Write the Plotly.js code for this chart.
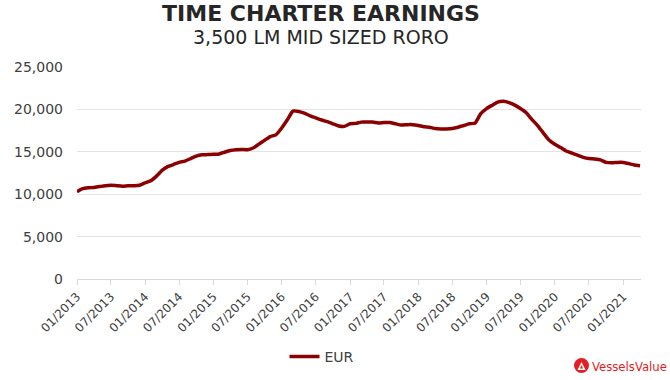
<!DOCTYPE html>
<html>
<head>
<meta charset="utf-8">
<script src="https://cdn.plot.ly/plotly-3.0.1.min.js"></script>
<style>html,body{margin:0;padding:0;background:#fff;}#chart{width:670px;height:380px;}</style>
</head>
<body>
<div id="chart"></div>
<script>
// Monthly time-charter earnings, Jan 2013 – Apr 2021 (EUR/day)
const startYear = 2013;
const seriesName = 'EUR';
const eurValues = [
  10300, 10650, 10750, 10800, 10900, 11000, 11050, 11000, 10950, 11000, 11000, 11050, // 2013
  11350, 11600, 12100, 12800, 13250, 13500, 13750, 13900, 14200, 14500, 14650, 14670, // 2014
  14700, 14750, 14950, 15150, 15250, 15280, 15250, 15450, 15900, 16350, 16800, 17000, // 2015
  17800, 18800, 19800, 19750, 19550, 19250, 19000, 18750, 18550, 18300, 18050, 18000, // 2016
  18300, 18350, 18500, 18500, 18500, 18400, 18450, 18450, 18300, 18150, 18200, 18200, // 2017
  18100, 17950, 17900, 17750, 17700, 17700, 17750, 17900, 18100, 18300, 18400, 19500, // 2018
  20100, 20500, 20850, 20950, 20800, 20500, 20100, 19600, 18800, 18100, 17200, 16400, // 2019
  15900, 15500, 15100, 14850, 14600, 14350, 14200, 14150, 14050, 13750, 13700, 13750, // 2020
  13750, 13600, 13450, 13350                                                          // 2021
];
const yTickVals = [0, 5000, 10000, 15000, 20000, 25000];
const yTickText = ['0', '5,000', '10,000', '15,000', '20,000', '25,000'];
const titleText = 'TIME CHARTER EARNINGS';
const subtitleText = '3,500 LM MID SIZED RORO';
const brandText = 'VesselsValue';

const dates = eurValues.map((v, i) => {
  const y = startYear + Math.floor(i / 12);
  const m = (i % 12) + 1;
  return y + '-' + String(m).padStart(2, '0') + '-01';
});

const trace = {
  x: dates,
  y: eurValues,
  type: 'scatter',
  mode: 'lines',
  name: seriesName,
  line: {color: '#8b0000', width: 3.5, shape: 'spline', smoothing: 0.5}
};

const plotL = 77, plotR = 641, plotT = 67, plotB = 279;
const pw = plotR - plotL, ph = plotB - plotT;
const px = v => (v - plotL) / pw;
const py = v => (plotB - v) / ph;

const layout = {
  width: 670, height: 380,
  margin: {l: plotL, r: 670 - plotR, t: plotT, b: 380 - plotB, autoexpand: false},
  paper_bgcolor: '#ffffff', plot_bgcolor: '#ffffff',
  font: {family: 'DejaVu Sans, Verdana, sans-serif', color: '#404040'},
  title: {
    text: '<b>' + titleText + '</b>',
    font: {family: 'DejaVu Sans, Verdana, sans-serif', size: 22, color: '#262626'},
    xref: 'container', x: 321 / 670, xanchor: 'center',
    yref: 'container', y: 1 - 13 / 380, yanchor: 'middle'
  },
  showlegend: true,
  legend: {
    orientation: 'h', x: px(322), xanchor: 'center', y: py(357), yanchor: 'middle',
    font: {size: 14, color: '#404040'}, bgcolor: 'rgba(0,0,0,0)'
  },
  xaxis: {
    type: 'date',
    range: ['2013-01-01', '2021-04-06'],
    tick0: '2013-01-01', dtick: 'M6', tickformat: '%m/%Y',
    tickangle: -45,
    tickfont: {size: 12, color: '#404040'},
    showgrid: false, zeroline: false,
    showline: true, linecolor: '#d9d9d9', linewidth: 1,
    ticks: 'outside', ticklen: 5, tickcolor: '#d9d9d9', tickwidth: 1,
    automargin: false,
    fixedrange: true
  },
  yaxis: {
    range: [0, 25000],
    tickvals: yTickVals, ticktext: yTickText,
    tickfont: {size: 14, color: '#404040'},
    showgrid: true, gridcolor: '#e3e3e3', gridwidth: 1,
    zeroline: false, showline: false, ticks: '',
    ticklabelstandoff: 13,
    automargin: false,
    fixedrange: true
  },
  annotations: [
    {
      text: subtitleText, showarrow: false,
      xref: 'paper', yref: 'paper', x: px(321), y: py(37), xanchor: 'center', yanchor: 'middle',
      font: {family: 'DejaVu Sans, Verdana, sans-serif', size: 19, color: '#262626'}
    },
    {
      text: brandText, showarrow: false,
      xref: 'paper', yref: 'paper', x: px(590), y: py(366), xanchor: 'left', yanchor: 'middle',
      font: {family: 'DejaVu Sans Condensed, DejaVu Sans, sans-serif', size: 13, color: '#e31e24'}
    }
  ],
  shapes: [
    {
      type: 'circle', xref: 'paper', yref: 'paper',
      x0: px(574), x1: px(589), y0: py(373), y1: py(358),
      fillcolor: '#e31e24', line: {width: 0}
    },
    {
      type: 'path', xref: 'paper', yref: 'paper',
      path: 'M ' + px(577.5) + ' ' + py(370) + ' L ' + px(585.5) + ' ' + py(370) + ' L ' + px(581.5) + ' ' + py(362) + ' Z',
      fillcolor: '#ffffff', line: {width: 0}
    },
    {
      type: 'path', xref: 'paper', yref: 'paper',
      path: 'M ' + px(580) + ' ' + py(368.5) + ' L ' + px(583) + ' ' + py(368.5) + ' L ' + px(581.5) + ' ' + py(365) + ' Z',
      fillcolor: '#e31e24', line: {width: 0}
    }
  ]
};

Plotly.newPlot('chart', [trace], layout, {displayModeBar: false, staticPlot: true});
</script>
</body>
</html>
